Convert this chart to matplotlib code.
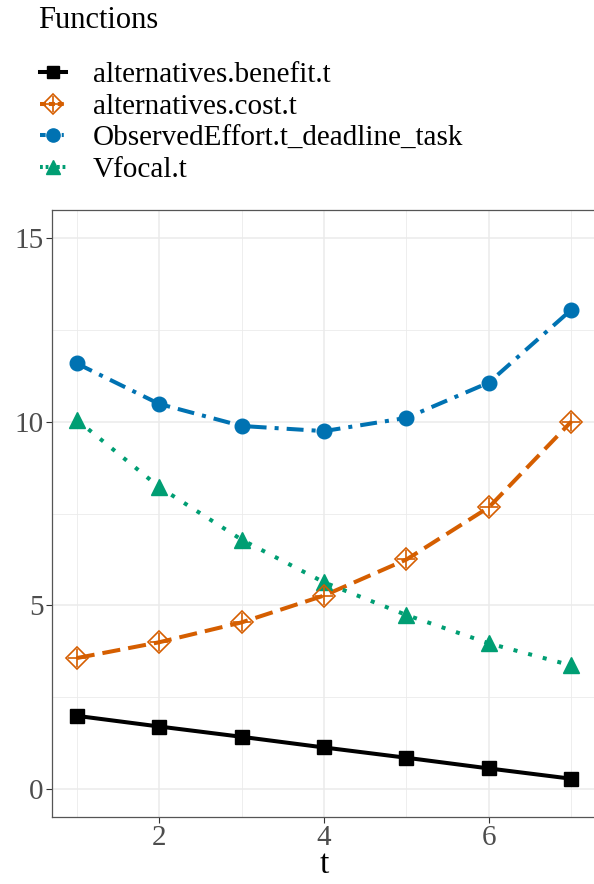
import numpy as np
import matplotlib
matplotlib.use("Agg")
import matplotlib.pyplot as plt
from matplotlib.lines import Line2D

plt.rcParams["font.family"] = ["Liberation Serif", "DejaVu Serif"]

t = [1, 2, 3, 4, 5, 6, 7]
benefit = [2.0, 1.71, 1.43, 1.14, 0.86, 0.57, 0.29]
cost = [3.57, 4.0, 4.54, 5.27, 6.25, 7.67, 10.0]
observed = [11.58, 10.48, 9.88, 9.74, 10.1, 11.06, 13.04]
vfocal = [10.05, 8.22, 6.79, 5.63, 4.74, 3.97, 3.37]

labels = ["alternatives.benefit.t", "alternatives.cost.t",
          "ObservedEffort.t_deadline_task", "Vfocal.t"]
colors = ["#000000", "#D55E00", "#0072B2", "#009E73"]

fig = plt.figure(figsize=(5.94, 8.84), dpi=100)
ax = fig.add_axes([0.0875, 0.0758, 0.916, 0.6866])

lw = 2.9
ax.plot(t, benefit, color=colors[0], lw=lw, solid_capstyle="butt",
        marker="s", ms=10, zorder=3)
ax.plot(t, cost, color=colors[1], lw=lw, ls=(0, (4.5, 2.0)),
        dash_capstyle="butt", zorder=3)
ax.plot(t, cost, ls="none", marker="D", ms=11, mfc="none",
        mec=colors[1], mew=1.2, zorder=4)
ax.plot(t, cost, ls="none", marker="+", ms=13, mec=colors[1], mew=1.2, zorder=4)
ax.plot(t, observed, color=colors[2], lw=lw, ls=(0, (4.2, 2.0, 1, 2.0)),
        dash_capstyle="butt", marker="o", ms=10.5, zorder=3)
ax.plot(t, vfocal, color=colors[3], lw=lw, ls=(0, (1, 2.75)),
        dash_capstyle="butt", marker="^", ms=11.5, zorder=3)

ax.set_xlim(0.7, 7.3)
ax.set_ylim(-0.75, 15.75)
ax.set_xticks([2, 4, 6])
ax.set_xticks([1, 3, 5, 7], minor=True)
ax.set_yticks([0, 5, 10, 15])
ax.set_yticks([2.5, 7.5, 12.5], minor=True)
ax.grid(which="major", color="#EBEBEB", lw=1.1, zorder=0)
ax.grid(which="minor", color="#EBEBEB", lw=0.6, zorder=0)
ax.set_axisbelow(True)
ax.tick_params(which="minor", length=0)
ax.tick_params(which="major", length=4, width=0.8, color="#333333",
               labelcolor="#4D4D4D", labelsize=21, pad=2)
for s in ax.spines.values():
    s.set_color("#555555")
    s.set_linewidth(0.9)
ax.set_xlabel("t", fontsize=24, labelpad=-1)

# legend keys: short line with the marker in the middle
handles = [
    Line2D([], [], color=colors[0], lw=lw, marker="s", ms=8.5),
    (Line2D([], [], color=colors[1], lw=lw, ls=(0, (1.5, 0.7)), marker="D", ms=10,
            mfc="none", mec=colors[1], mew=1.2),
     Line2D([], [], ls="none", marker="+", ms=12, mec=colors[1], mew=1.2)),
    Line2D([], [], color=colors[2], lw=lw, ls=(0, (1.4, 0.7, 0.5, 0.7)),
           marker="o", ms=9.5),
    Line2D([], [], color=colors[3], lw=lw, ls=(0, (0.7, 0.7)), marker="^", ms=10.5),
]
fig.text(38 / 594, 1 - 20 / 884, "Functions", fontsize=22, va="center", ha="left")
leg = fig.legend(handles, labels, loc="upper left", bbox_to_anchor=(40 / 594, 0.930),
                 frameon=False, fontsize=21, handlelength=0.9, handletextpad=0.9,
                 labelspacing=0.18, borderpad=0, borderaxespad=0)

fig.savefig("out.png", dpi=100)
